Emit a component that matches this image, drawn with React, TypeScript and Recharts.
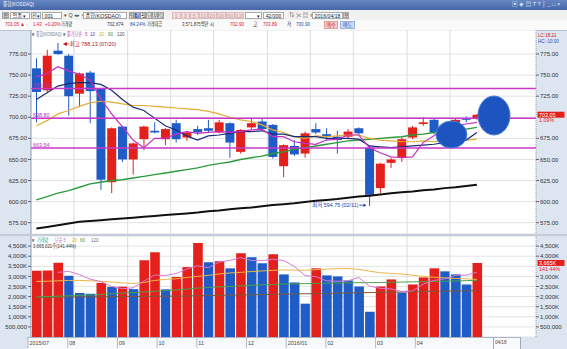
import React from 'react';
import { ComposedChart, Bar, Line, XAxis, YAxis, CartesianGrid, ReferenceLine, ReferenceDot, Cell } from 'recharts';

const FONT = "'Liberation Sans', 'Noto Sans CJK KR', Arial, sans-serif";
const RED = '#e3201b';
const BLUE = '#1f5cc6';

// ---------- data (weekly KOSDAQ, 2015/07 - 2016/04) ----------
const weeks = ['07/06','07/13','07/20','07/27','08/03','08/10','08/17','08/24','08/31','09/07','09/14','09/21','09/28','10/05','10/12','10/19','10/26','11/02','11/09','11/16','11/23','11/30','12/07','12/14','12/21','12/28','01/04','01/11','01/18','01/25','02/01','02/08','02/15','02/22','02/29','03/07','03/14','03/21','03/28','04/04','04/11','04/18'];
const openP = [758,732,779,773,728,753,734,623,689,650,674,684,674,693,676,686,687,682,693,659,688,695,691,642,666,657,686,680,677,677,687,664,616,646,652,676,692,697,684,693,699,699];
const highP = [770,780,788.13,775,753,755,735,688,690,670,690,694,687,697,683,690,697,697,694,686,698,698,692,668,673,683,693,687,684,686,688,666,646,652,676,690,700,699,692,699,701,704];
const lowP = [694,730,774,702,712,693,614,610,647,632,661,681,667,670,672,679,682,681,652,657,686,684,651,629,654,652,680,673,657,674,679,594.75,610,640,647,674,690,680,680,690,694,697];
const closeP = [730,773,775,725,752,731,626,687,650,669,689,682,686,674,682,682,684,694,670,685,693,686,653,667,656,681,682,677,673,683,681,608,645,650,674,688,694,682,690,697,697,703.05];
const ma5 = [748,752,760,755,751,744,722,704,689,673,664,675,675,680,683,681,682,683,682,683,685,686,677,677,671,669,668,673,674,679,679,664,658,653,652,653,670,678,686,690,692,694];
const ma10 = [721,729,737,740,741,741,739,732,721,712,708,699,690,685,678,673,678,679,681,683,683,684,680,680,677,677,677,675,675,675,674,666,665,664,665,666,667,668,670,671,673,682];
const ma20 = [690,696,704,708,713,717,719,718,716,714,714,713,712,711,710,709,707,704,700,697,695,691,685,682,677,675,678,677,678,679,679,675,673,672,671,671,672,671,672,673,673,674];
const ma60 = [602,606,610,613,617,621,623,625,626,628,630,632,634,636,638,640,643,645,647,650,652,654,657,659,662,664,666,668,670,672,673,674,675,676,677,679,680,682,683,685,686,688];
const ma120 = [568,570,572,574,576,577,578,579,580,581,582,583,584,585,586,587,588.5,589.5,591,592,593,594.5,596,597,598,599.5,601,602,603,604.5,606,607,608.5,610,611,612,613.5,614.5,616,617,618.5,620];

// volume in thousands of shares
const volume = [3280,3290,3680,3030,2180,2140,2680,2480,2490,2370,3800,4200,2360,2970,3460,4650,3700,3750,3400,4150,3950,3650,4100,3100,2700,1650,3400,3050,3000,2800,2500,1250,2500,2850,2200,2600,2950,3400,3250,3100,2600,3665.021];
const vma5 = [null,null,3200,3250,3092,2864,2742,2502,2394,2432,2764,3068,3044,3140,3358,3528,3428,3706,3792,3930,3790,3780,3850,3790,3500,3040,2990,2780,2760,2780,2950,2520,2410,2380,2260,2280,2620,2800,2880,3060,3060,3203];
const vma20 = [2750,2760,2780,2800,2800,2780,2760,2720,2680,2650,2700,2800,2850,2880,2950,3000,3050,3120,3170,3200,3240,3270,3300,3320,3310,3300,3330,3360,3380,3390,3350,3260,3180,3150,3120,3060,3000,2960,2930,2900,2880,2850];
const vma60 = [1980,2000,2020,2040,2060,2080,2110,2140,2170,2200,2230,2260,2300,2330,2370,2420,2450,2480,2500,2530,2560,2580,2600,2620,2630,2640,2650,2660,2670,2680,2690,2690,2700,2710,2720,2730,2740,2750,2760,2770,2790,2800];
const vma120 = [1950,1960,1970,1975,1980,1985,1990,1995,2000,2005,2010,2015,2020,2025,2030,2040,2050,2060,2070,2080,2090,2100,2110,2120,2130,2140,2150,2160,2170,2180,2190,2200,2210,2220,2230,2240,2250,2260,2270,2280,2290,2300];

const priceTicks = [575,600,625,650,675,700,725,750,775];
const priceTicksRight = [575,600,625,650,675,725,750,775];
const volTicks = [500,1000,1500,2000,2500,3000,3500,4000,4500];
const volTicksRight = [500,1000,1500,2000,2500,3000,4000,4500];
const levels = [734.06, 698.80, 663.54];
const monthTicks = [0,4,9,13,17,22,26,30,35,39];
const monthLabels = ['2015/07','08','09','10','11','12','2016/01','02','03','04'];
const highInfo = { idx: 2, value: 788.13, date: '07/20' };
const lowInfo = { idx: 31, value: 594.75, date: '02/11' };
const ellipses = [
  { x: 38.63, y: 679.6, rx: 15.5, ry: 13.5 },
  { x: 42.59, y: 702.1, rx: 16, ry: 19.5 },
];
const lastClose = 703.05;
const lastPct = '1.09%';
const lastVol = 3665.021;
const volPct = '141.44%';
const SLOTS = 47; // 42 weeks + empty right margin slots

const rows = Array.from({ length: SLOTS }, (_, i) => {
  if (i >= weeks.length) return { k: 'pad' + i, i };
  return {
    k: weeks[i], i,
    open: openP[i], high: highP[i], low: lowP[i], close: closeP[i],
    ma5: ma5[i], ma10: ma10[i], ma20: ma20[i], ma60: ma60[i], ma120: ma120[i],
    vol: volume[i], vma5: vma5[i], vma20: vma20[i], vma60: vma60[i], vma120: vma120[i],
    vc: i === 0 || volume[i] >= volume[i - 1] ? RED : BLUE,
  };
});
const gridBounds = monthTicks.slice(1).map((m) => m - 0.5);

// ---------- shapes ----------
const Candle = (p: any) => {
  const { x, y, width, height, payload } = p;
  if (!payload || payload.high == null) return null;
  const { open, close, high, low } = payload;
  const top = Math.min(y, y + height);
  const h = Math.abs(height);
  const py = (v: number) => top + ((high - v) / (high - low)) * h;
  const cx = x + width / 2;
  const color = close >= open ? RED : BLUE;
  const bt = py(Math.max(open, close));
  const bb = py(Math.min(open, close));
  return (
    <g>
      <line x1={cx} x2={cx} y1={top} y2={top + h} stroke={color} strokeWidth={1} />
      <rect x={x} y={bt} width={width} height={Math.max(1.5, bb - bt)} fill={color} />
    </g>
  );
};

const makeEllipse = (rx: number, ry: number) => (p: any) => (
  <ellipse cx={p.cx} cy={p.cy} rx={rx} ry={ry} fill="#1d54c0" stroke="#4a80d8" strokeWidth={1} />
);

const HighNote = (p: any) => (
  <g fontFamily={FONT}>
    <path d={`M${p.cx + 5},${p.cy + 1} l4,-2 v4 z`} fill="#c0141c" />
    <line x1={p.cx + 8} x2={p.cx + 11} y1={p.cy + 1} y2={p.cy + 1} stroke="#c0141c" strokeWidth={0.8} />
    <text x={p.cx + 12} y={p.cy + 3} fontSize={5.4} fill="#b41818">{`최고 ${highInfo.value.toFixed(2)} (${highInfo.date})`}</text>
  </g>
);

const LowNote = (p: any) => (
  <g fontFamily={FONT}>
    <text x={p.cx - 11} y={p.cy + 1} fontSize={5.4} fill="#2838a0" textAnchor="end">{`최저 ${lowInfo.value.toFixed(2)} (${lowInfo.date})`}</text>
    <line x1={p.cx - 10} x2={p.cx - 6} y1={p.cy - 0.8} y2={p.cy - 0.8} stroke="#2838a0" strokeWidth={0.8} />
    <path d={`M${p.cx - 3},${p.cy - 0.8} l-3,-1.8 v3.6 z`} fill="#2838a0" />
  </g>
);

const levelLabel = (text: string) => (props: any) => {
  const vb = props.viewBox || {};
  return (
    <text x={vb.x + 2} y={vb.y - 1.5} fontSize={5.4} fill="#c030c0" fontFamily={FONT}>{text}</text>
  );
};

const sideBox = (text: string, sub: string) => (props: any) => {
  const vb = props.viewBox || {};
  const x = vb.x + vb.width + 1.5;
  return (
    <g fontFamily={FONT}>
      <rect x={x} y={vb.y - 3} width={27} height={6} fill={RED} />
      <text x={x + 1.5} y={vb.y + 2} fontSize={5.4} fill="#fff">{text}</text>
      <text x={x + 1.5} y={vb.y + 7.6} fontSize={5.4} fill={RED}>{sub}</text>
    </g>
  );
};

const axisTick = { fontSize: 6, fill: '#333', fontFamily: FONT };

const fmtVol = (v: number) => (v >= 1000 ? `${v.toLocaleString('en-US')}K` : (v * 1000).toLocaleString('en-US'));

function PriceChart() {
  return (
    <ComposedChart width={567} height={204} data={rows} margin={{ top: 0, right: 0, bottom: 0, left: 0 }}>
      <XAxis dataKey="k" hide />
      <XAxis xAxisId="n" dataKey="i" type="number" domain={[-0.5, SLOTS - 0.5]} allowDataOverflow hide />
      <YAxis yAxisId="p" orientation="left" width={31} domain={[561.6, 803.5]} allowDataOverflow ticks={priceTicks} interval={0}
        tickFormatter={(v: number) => v.toFixed(2)} tick={axisTick} tickSize={3} tickMargin={1}
        axisLine={{ stroke: '#8c9ab0' }} tickLine={{ stroke: '#666' }} />
      <YAxis yAxisId="pr" orientation="right" width={31} domain={[561.6, 803.5]} allowDataOverflow ticks={priceTicksRight} interval={0}
        tickFormatter={(v: number) => v.toFixed(2)} tick={axisTick} tickSize={3} tickMargin={1}
        axisLine={{ stroke: '#8c9ab0', strokeDasharray: '1 1' }} tickLine={{ stroke: '#666' }} />
      <CartesianGrid yAxisId="p" vertical={false} stroke="#e3e3e3" />
      {gridBounds.map((b) => (
        <ReferenceLine key={'g' + b} xAxisId="n" yAxisId="p" x={b} stroke="#dcdcdc" />
      ))}
      <Bar yAxisId="p" dataKey={(d: any) => (d.high == null ? undefined : [d.low, d.high])} barSize={9} shape={Candle} isAnimationActive={false} />
      {ellipses.map((e, j) => (
        <ReferenceDot key={'e' + j} xAxisId="n" yAxisId="p" x={e.x} y={e.y} r={1} shape={makeEllipse(e.rx, e.ry)} ifOverflow="visible" />
      ))}
      <Line yAxisId="p" dataKey="ma120" stroke="#111" strokeWidth={2} dot={false} isAnimationActive={false} />
      <Line yAxisId="p" dataKey="ma60" stroke="#2c9a3c" strokeWidth={1.4} dot={false} isAnimationActive={false} />
      <Line yAxisId="p" dataKey="ma20" stroke="#e2ae34" strokeWidth={1.2} dot={false} isAnimationActive={false} />
      <Line yAxisId="p" dataKey="ma10" stroke="#1a2a78" strokeWidth={1.2} dot={false} isAnimationActive={false} />
      <Line yAxisId="p" dataKey="ma5" stroke="#c82fc0" strokeWidth={1.2} dot={false} isAnimationActive={false} />
      {levels.map((lv) => (
        <ReferenceLine key={'l' + lv} yAxisId="p" y={lv} stroke="#c837c8" strokeWidth={1.6} label={levelLabel(lv.toFixed(2))} />
      ))}
      <ReferenceLine yAxisId="p" y={lastClose} stroke="none" label={sideBox(lastClose.toFixed(2), lastPct)} />
      <ReferenceDot xAxisId="n" yAxisId="p" x={highInfo.idx} y={highInfo.value} r={1} shape={HighNote} ifOverflow="visible" />
      <ReferenceDot xAxisId="n" yAxisId="p" x={lowInfo.idx} y={lowInfo.value} r={1} shape={LowNote} ifOverflow="visible" />
    </ComposedChart>
  );
}

function VolumeChart() {
  return (
    <ComposedChart width={567} height={101} data={rows} margin={{ top: 0, right: 0, bottom: 0, left: 0 }}>
      <XAxis dataKey="k" hide />
      <XAxis xAxisId="n" dataKey="i" type="number" domain={[-0.5, SLOTS - 0.5]} allowDataOverflow hide />
      <YAxis yAxisId="v" orientation="left" width={31} domain={[0, 5000]} allowDataOverflow ticks={volTicks} interval={0}
        tickFormatter={fmtVol} tick={axisTick} tickSize={3} tickMargin={1}
        axisLine={{ stroke: '#8c9ab0' }} tickLine={{ stroke: '#666' }} />
      <YAxis yAxisId="vr" orientation="right" width={31} domain={[0, 5000]} allowDataOverflow ticks={volTicksRight} interval={0}
        tickFormatter={fmtVol} tick={axisTick} tickSize={3} tickMargin={1}
        axisLine={{ stroke: '#8c9ab0', strokeDasharray: '1 1' }} tickLine={{ stroke: '#666' }} />
      <CartesianGrid yAxisId="v" vertical={false} stroke="#e3e3e3" />
      {gridBounds.map((b) => (
        <ReferenceLine key={'g' + b} xAxisId="n" yAxisId="v" x={b} stroke="#dcdcdc" />
      ))}
      <Bar yAxisId="v" dataKey="vol" barSize={9.6} isAnimationActive={false}>
        {rows.map((r: any, i) => (
          <Cell key={i} fill={r.vc || RED} />
        ))}
      </Bar>
      <Line yAxisId="v" dataKey="vma120" stroke="#7a5a3a" strokeWidth={1} dot={false} isAnimationActive={false} />
      <Line yAxisId="v" dataKey="vma60" stroke="#4aa24a" strokeWidth={1} dot={false} isAnimationActive={false} />
      <Line yAxisId="v" dataKey="vma20" stroke="#eab84a" strokeWidth={1} dot={false} isAnimationActive={false} />
      <Line yAxisId="v" dataKey="vma5" stroke="#d77ad4" strokeWidth={1} dot={false} isAnimationActive={false} />
      <ReferenceLine yAxisId="v" y={lastVol} stroke="none" label={sideBox(`${Math.round(lastVol).toLocaleString('en-US')}K`, volPct)} />
    </ComposedChart>
  );
}

const DATE_X0 = 28;
const DATE_STEP = 9.93;
const DateTick = (p: any) => {
  const j = monthTicks.indexOf(p.payload.value);
  return (
    <g fontFamily={FONT}>
      <line x1={p.x} x2={p.x} y1={p.y} y2={p.y + 11} stroke="#a0aabb" strokeWidth={0.8} />
      <text x={p.x + 1.5} y={p.y + 8} fontSize={5.4} fill="#444">{monthLabels[j]}</text>
    </g>
  );
};

function DateRow() {
  const data = monthTicks.map((i) => ({ i }));
  return (
    <ComposedChart width={567} height={14} data={data} margin={{ top: 0, right: 0, bottom: 0, left: 0 }}>
      <XAxis dataKey="i" type="number" domain={[-DATE_X0 / DATE_STEP, (567 - DATE_X0) / DATE_STEP]} allowDataOverflow
        ticks={monthTicks} interval={0} tick={DateTick} tickSize={0} tickMargin={0} axisLine={false} tickLine={false} height={12} />
      <YAxis hide />
    </ComposedChart>
  );
}

const Txt = ({ x, y, c = '#333', fs = 5.4, sx = 0.85, children }: any) => (
  <div style={{ position: 'absolute', left: x, top: y, color: c, fontSize: fs, lineHeight: 1, whiteSpace: 'nowrap', transform: `scaleX(${sx})`, transformOrigin: '0 0' }}>{children}</div>
);

const Box = ({ x, y = 11.5, w, h = 7.5, text = '', bg = '#fff', bd = '#a9a9a9', c = '#222', align = 'center' }: any) => (
  <div style={{ position: 'absolute', left: x, top: y, width: w, height: h, background: bg, border: `0.5px solid ${bd}`, boxSizing: 'border-box', overflow: 'hidden' }}>
    <div style={{ position: 'absolute', top: 1, left: align === 'left' ? 1.5 : 0, right: align === 'right' ? 1.5 : 0, width: align === 'center' ? '100%' : undefined, textAlign: align, fontSize: 5.2, lineHeight: 1, color: c, whiteSpace: 'nowrap' }}>{text}</div>
  </div>
);

const periodBtns = ['일', '주', '월', '년', '분', '틱'];
const numBtns = ['1', '3', '5', '10', '20', '30', '60', '120'];

export default function App() {
  return (
    <div style={{ position: 'absolute', left: 0, top: 0, width: 567, height: 349, overflow: 'hidden', background: '#dce5f0', fontFamily: FONT }}>
      {/* title bar */}
      <div style={{ position: 'absolute', left: 0, top: 0, width: 567, height: 10, background: 'linear-gradient(#6687c2, #4466a8)' }} />
      <Txt x={3} y={2} c="#f4f7ff" fs={5.4}>종합(KOSDAQ)</Txt>
      <Txt x={512} y={2} c="#e6ecf8" fs={5.6} sx={1}>▣ ◈ ▤ T ? │ _ □ ×</Txt>
      {/* toolbar */}
      <div style={{ position: 'absolute', left: 0, top: 10, width: 567, height: 10, background: '#f1f1f1' }} />
      <Box x={2} w={7} text="▦" bg="#e6e6e6" />
      <Box x={10} w={20} text="업종 ▾" align="left" />
      <Box x={31} w={10} text="전▾" />
      <Box x={42} w={20} text="001" align="left" />
      <Txt x={64} y={13} c="#444" sx={1}>▾ Q ◂▸ ▾</Txt>
      <Box x={83} w={44} text="종합(KOSDAQ)" align="left" />
      {periodBtns.map((b, j) => (
        <Box key={b} x={128.5 + j * 5.9} w={5.6} text={b} bg={b === '주' ? '#3a6bc9' : '#ececec'} c={b === '주' ? '#fff' : '#333'} bd="#a0a0a0" />
      ))}
      {numBtns.map((b, j) => (
        <Box key={b} x={172 + j * 9} w={8.5} text={b} bg="#f4dcdc" c="#c49a9a" bd="#dcbcbc" />
      ))}
      <Box x={245} w={17} text="▾" align="right" />
      <Box x={263} w={21} text="42/300" align="right" />
      <Txt x={289} y={12.5} c="#555" sx={1}>⇅ ✂ ▤ ⚙</Txt>
      <Box x={312} w={31} text="2016/04/18" />
      <Box x={343} w={5.5} text="▦" bg="#eee" />
      {/* info row */}
      <div style={{ position: 'absolute', left: 0, top: 20, width: 567, height: 9.5, background: '#fafafa', borderBottom: '0.5px solid #b8c2d0' }} />
      <Txt x={5} y={22} c={RED}>703.05 ▲</Txt>
      <Txt x={33} y={22} c={RED}>1.43</Txt>
      <Txt x={45} y={22} c={RED}>+0.20%</Txt>
      <Txt x={61} y={22} sx={0.75}>거래량</Txt>
      <Txt x={107} y={22}>702,674</Txt>
      <Txt x={130} y={22} c="#2050b0">84.24%</Txt>
      <Txt x={147} y={22} sx={0.75}>거래대금</Txt>
      <Txt x={182} y={22} sx={0.78}>3,571,875백만</Txt>
      <Txt x={210} y={22}>시</Txt>
      <Txt x={230} y={22} c={RED}>702.90</Txt>
      <Txt x={253} y={22}>고</Txt>
      <Txt x={263} y={22} c={RED}>703.89</Txt>
      <Txt x={287} y={22}>저</Txt>
      <Txt x={296} y={22} c="#2050b0">700.90</Txt>
      <Box x={324} y={21} w={14} text="매수" bg="#f6caca" bd="#d9a0a0" c="#c03030" />
      <Box x={340} y={21} w={15} text="매도" bg="#cadaf6" bd="#a0b4d9" c="#2050b0" />

      {/* plot backgrounds */}
      <div style={{ position: 'absolute', left: 31, top: 30, width: 505, height: 204, background: '#fff' }} />
      <div style={{ position: 'absolute', left: 0, top: 234, width: 567, height: 2, background: '#c3ccd8' }} />
      <div style={{ position: 'absolute', left: 31, top: 236, width: 505, height: 101, background: '#fff' }} />
      <div style={{ position: 'absolute', left: 28, top: 337, width: 492, height: 12, background: '#f8f9fb', borderTop: '0.5px solid #aab4c4', boxSizing: 'border-box' }} />

      <div style={{ position: 'absolute', left: 0, top: 30 }}><PriceChart /></div>
      <div style={{ position: 'absolute', left: 0, top: 236 }}><VolumeChart /></div>
      <div style={{ position: 'absolute', left: 0, top: 335 }}><DateRow /></div>

      {/* legends */}
      <Txt x={32} y={32} c="#7080a0" sx={0.7}>■</Txt>
      <Txt x={36} y={32} c="#6a7890" sx={0.7}>종합(KOSDAQ)</Txt>
      <Txt x={63} y={32} c="#7080a0" sx={0.7}>■</Txt>
      <Txt x={67} y={32} c="#d040c0" sx={0.7}>종가 단순</Txt>
      <Txt x={85} y={32} c="#d040c0">5</Txt>
      <Txt x={90} y={32} c="#2f4fc8">10</Txt>
      <Txt x={99} y={32} c="#dcb020">20</Txt>
      <Txt x={108} y={32} c="#2c9a3c">60</Txt>
      <Txt x={117} y={32} c="#505050">120</Txt>

      <Txt x={32} y={238} c="#7080a0" sx={0.7}>■</Txt>
      <Txt x={37} y={238} c="#2a9a9a" sx={0.75}>거래량</Txt>
      <Txt x={55} y={238} c="#d060d0" sx={0.75}>단순 5</Txt>
      <Txt x={72} y={238} c="#dcb020">20</Txt>
      <Txt x={80} y={238} c="#3a9a3a">60</Txt>
      <Txt x={91} y={238} c="#707070">120</Txt>
      <Txt x={33} y={243.5} c="#333" sx={0.8}>3,665,021주(141.44%)</Txt>

      {/* right panel extras */}
      <Txt x={538} y={33} c="#d02020">LC:18.21</Txt>
      <Txt x={538} y={38.5} c="#2050c0">HC:-10.00</Txt>
      <div style={{ position: 'absolute', left: 493, top: 337, width: 0.8, height: 12, background: '#a0aabb' }} />
      <div style={{ position: 'absolute', left: 520, top: 337, width: 0.8, height: 12, background: '#a0aabb' }} />
      <Txt x={495} y={340} c="#444">04/18</Txt>
    </div>
  );
}
